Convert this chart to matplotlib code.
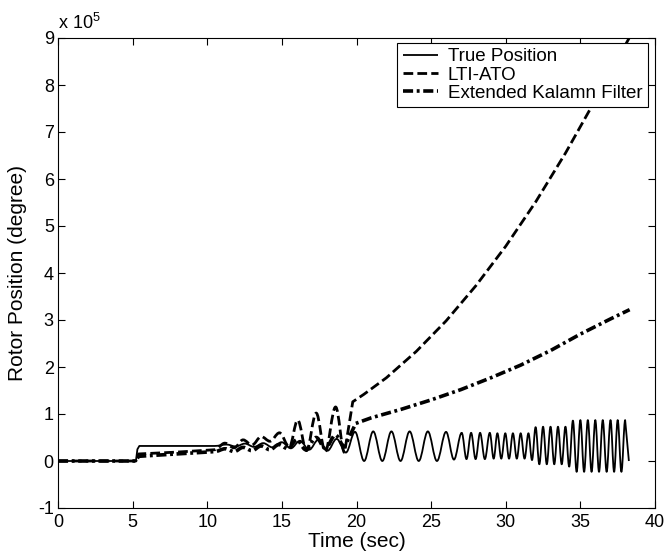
import matplotlib
matplotlib.use("Agg")
import matplotlib.pyplot as plt
from matplotlib.path import Path
from matplotlib.patches import PathPatch
from matplotlib.lines import Line2D

plt.rcParams["font.family"] = ["Liberation Sans", "DejaVu Sans"]
plt.rcParams["mathtext.default"] = "regular"
plt.rcParams["axes.unicode_minus"] = False

# ---------------- data (rotor position in units of 1e5 degree) ----------------
# True Position
true_head_t = [0, 5.22, 5.32, 5.45, 10.5]
true_head_y = [0, 0, 0.25, 0.32, 0.32]
true_peak_t = [11.29, 12.52, 13.75, 14.98, 16.21, 17.44, 18.67, 19.90, 21.12, 22.34,
               23.56, 24.78, 26.00, 27.05, 27.68, 28.28, 28.93, 29.44, 29.97, 30.48,
               31.00, 31.52, 32.00, 32.50, 33.00, 33.50, 34.00, 34.50, 35.00, 35.50,
               36.00, 36.50, 37.02, 37.50, 38.00]
true_peak_y = [0.35, 0.37, 0.38, 0.40, 0.43, 0.45, 0.47, 0.62, 0.63, 0.63,
               0.63, 0.63, 0.62, 0.60, 0.60, 0.60, 0.60, 0.59, 0.59, 0.59,
               0.59, 0.59, 0.72, 0.73, 0.73, 0.73, 0.73, 0.86, 0.87, 0.87,
               0.87, 0.87, 0.87, 0.87, 0.87]
true_trough_t = [11.91, 13.14, 14.37, 15.60, 16.83, 18.06, 19.29, 20.51, 21.73, 22.95,
                 24.17, 25.39, 26.53, 27.37, 27.98, 28.60, 29.19, 29.70, 30.22, 30.74,
                 31.26, 31.76, 32.25, 32.75, 33.25, 33.75, 34.25, 34.75, 35.25, 35.75,
                 36.25, 36.76, 37.26, 37.75]
true_trough_y = [0.31, 0.30, 0.29, 0.27, 0.24, 0.22, 0.18, 0.00, 0.00, 0.00,
                 0.00, 0.00, 0.03, 0.04, 0.04, 0.04, 0.05, 0.05, 0.05, 0.05,
                 0.05, 0.02, -0.07, -0.07, -0.07, -0.07, -0.12, -0.23, -0.23, -0.23,
                 -0.23, -0.23, -0.23, -0.23]
true_tail_t = [38.25]
true_tail_y = [0.0]

# LTI-ATO
lti_head_t = [0, 5.22, 5.4, 8.0, 10.5]
lti_head_y = [0, 0, 0.15, 0.19, 0.24]
lti_peak_t = [11.18, 12.40, 13.62, 14.84, 16.06, 17.30, 18.60]
lti_peak_y = [0.38, 0.45, 0.52, 0.60, 0.87, 1.02, 1.15]
lti_trough_t = [11.80, 13.00, 14.20, 15.50, 16.65, 17.90, 19.20]
lti_trough_y = [0.28, 0.34, 0.42, 0.30, 0.22, 0.20, 0.18]
lti_tail_t = [19.75, 20.5, 22, 24, 26, 28, 30, 32, 34, 36, 38.27]
lti_tail_y = [1.26, 1.42, 1.77, 2.33, 2.98, 3.73, 4.57, 5.51, 6.55, 7.68, 9.0]

# Extended Kalman Filter
ekf_head_t = [0, 5.22, 5.4, 10.5]
ekf_head_y = [0, 0, 0.10, 0.20]
ekf_peak_t = [11.2, 12.4, 13.6, 14.8, 16.0, 17.3, 18.6]
ekf_peak_y = [0.26, 0.29, 0.32, 0.35, 0.45, 0.50, 0.55]
ekf_trough_t = [11.8, 13.0, 14.2, 15.4, 16.6, 17.9, 19.2]
ekf_trough_y = [0.20, 0.22, 0.24, 0.26, 0.24, 0.27, 0.30]
ekf_tail_t = [19.95, 21, 23, 25, 27, 29, 31, 33, 35, 37, 38.3]
ekf_tail_y = [0.80, 0.92, 1.10, 1.30, 1.52, 1.77, 2.04, 2.35, 2.70, 3.02, 3.22]

labels = ["True Position", "LTI-ATO", "Extended Kalamn Filter"]


def build_path(head_t, head_y, peak_t, peak_y, trough_t, trough_y, tail_t, tail_y):
    # straight segments for head/tail, smooth bezier arcs between the extrema
    verts = [(head_t[0], head_y[0])]
    codes = [Path.MOVETO]
    for p in zip(head_t[1:], head_y[1:]):
        verts.append(p)
        codes.append(Path.LINETO)
    ext = sorted(zip(peak_t + trough_t, peak_y + trough_y))
    x0, y0 = verts[-1]
    k = 0.36
    for x1, y1 in ext:
        dx = x1 - x0
        verts += [(x0 + k * dx, y0), (x1 - k * dx, y1), (x1, y1)]
        codes += [Path.CURVE4] * 3
        x0, y0 = x1, y1
    for p in zip(tail_t, tail_y):
        verts.append(p)
        codes.append(Path.LINETO)
    return Path(verts, codes)


styles = [
    dict(lw=1.3, ls="-"),
    dict(lw=2.0, ls=(0, (3.5, 1.5))),
    dict(lw=2.6, ls=(0, (2.8, 1.0, 0.8, 1.0))),
]

series = [
    build_path(true_head_t, true_head_y, true_peak_t, true_peak_y,
               true_trough_t, true_trough_y, true_tail_t, true_tail_y),
    build_path(lti_head_t, lti_head_y, lti_peak_t, lti_peak_y,
               lti_trough_t, lti_trough_y, lti_tail_t, lti_tail_y),
    build_path(ekf_head_t, ekf_head_y, ekf_peak_t, ekf_peak_y,
               ekf_trough_t, ekf_trough_y, ekf_tail_t, ekf_tail_y),
]

fig = plt.figure(figsize=(6.66, 5.56), dpi=100)
ax = fig.add_axes([58 / 666, 48 / 556, 597 / 666, 470 / 556])

handles = []
for path, st in zip(series, styles):
    ax.add_patch(PathPatch(path, facecolor="none", edgecolor="k", lw=st["lw"],
                           linestyle=st["ls"], capstyle="butt", joinstyle="round"))
    handles.append(Line2D([], [], color="k", lw=st["lw"], linestyle=st["ls"],
                          solid_capstyle="butt", dash_capstyle="butt"))

ax.set_xlim(0, 40)
ax.set_ylim(-1, 9)
ax.set_xticks(range(0, 41, 5))
ax.set_yticks(range(-1, 10))
ax.tick_params(direction="in", top=True, right=True, length=5, width=0.8,
               labelsize=13)
ax.tick_params(axis="x", pad=4)
ax.tick_params(axis="y", pad=3)
for s in ax.spines.values():
    s.set_linewidth(0.8)

ax.set_xlabel("Time (sec)", fontsize=15, labelpad=1)
ax.set_ylabel("Rotor Position (degree)", fontsize=15, labelpad=8)
ax.text(0.0, 1.01, "x 10$^5$", transform=ax.transAxes, fontsize=13,
        ha="left", va="bottom")

leg = ax.legend(handles, labels, loc="upper right", bbox_to_anchor=(0.988, 0.99),
                borderaxespad=0, fontsize=13.5, handlelength=1.9, handletextpad=0.5,
                labelspacing=0.05, borderpad=0.3, fancybox=False, framealpha=1,
                edgecolor="k")
leg.get_frame().set_linewidth(0.8)

fig.savefig("out.png", dpi=100)
